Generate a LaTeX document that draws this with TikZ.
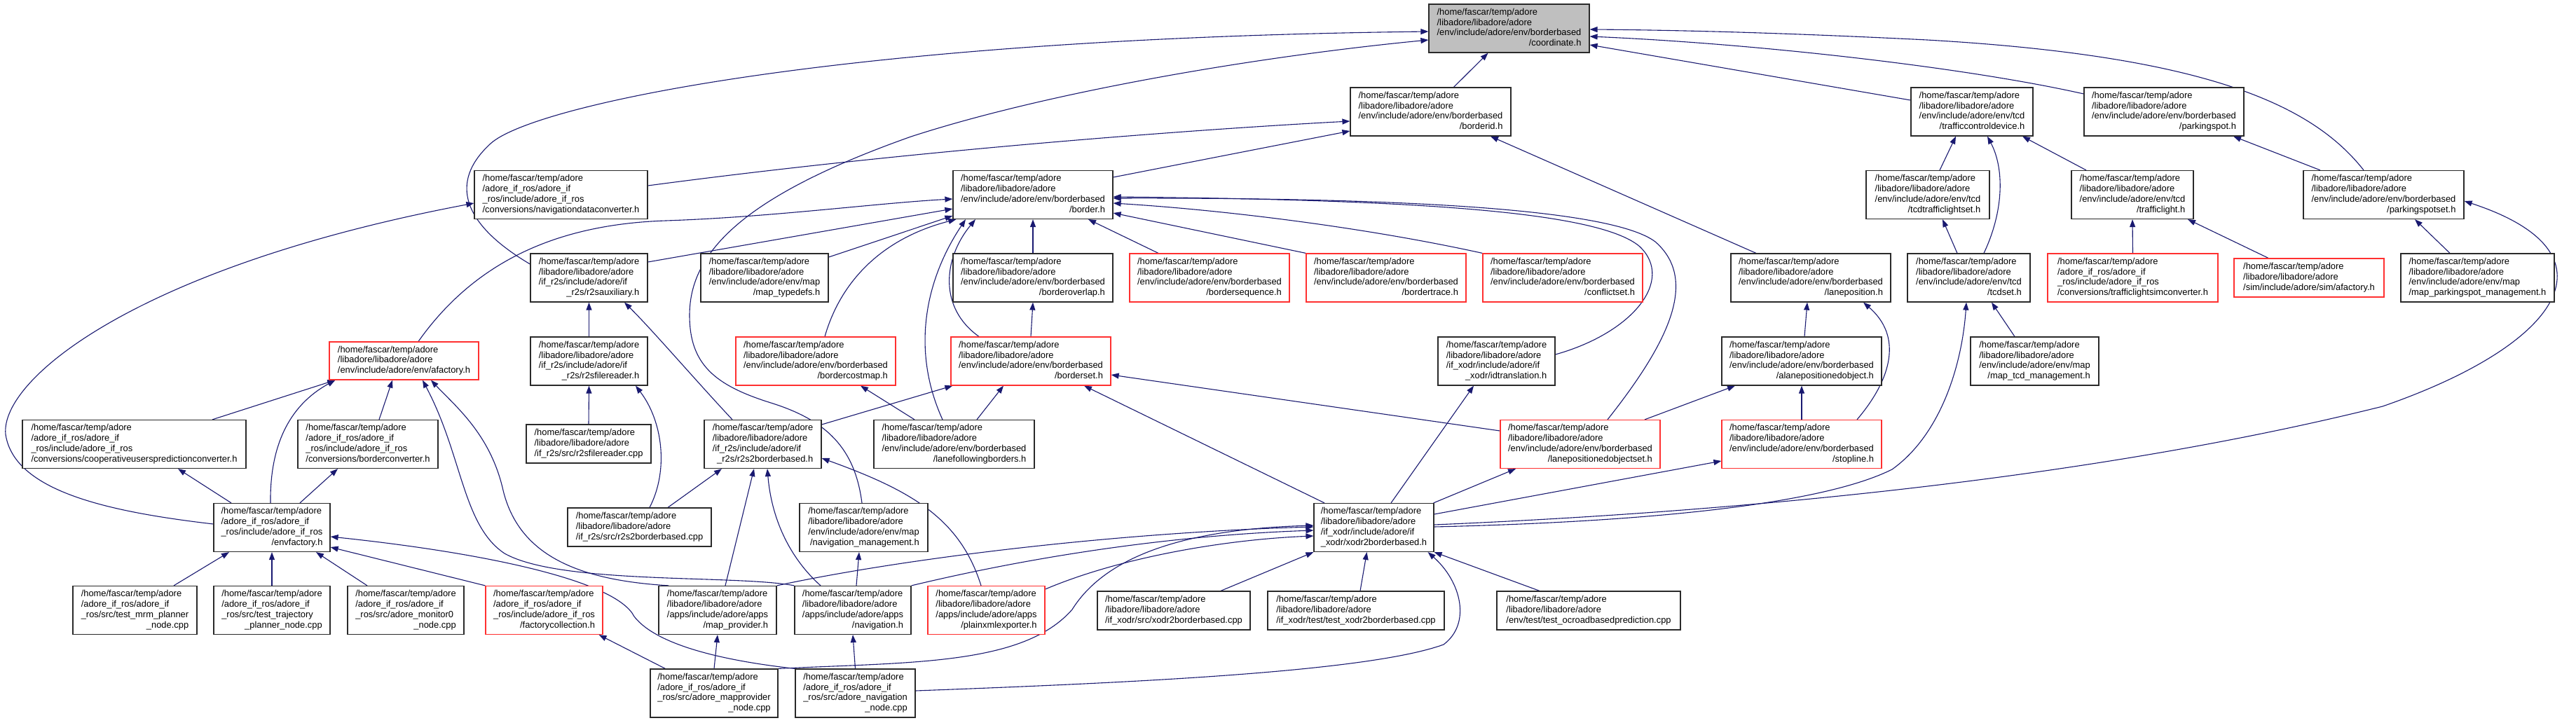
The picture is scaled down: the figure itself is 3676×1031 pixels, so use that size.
\documentclass[tikz,border=0pt]{standalone}
\usepackage{fontspec}
\setmainfont{Liberation Sans}
\usetikzlibrary{arrows.meta,calc}
\definecolor{ecol}{HTML}{191970}
\definecolor{bcol}{HTML}{2A2A2A}
\definecolor{rcol}{HTML}{FF3030}
\definecolor{gfill}{HTML}{BFBFBF}
\newcommand{\nf}{\fontsize{12.9}{14.8}\selectfont}
\newcommand{\ntx}[1]{\begin{tabular}{@{}l@{}}#1\end{tabular}}
\newcommand{\lcx}[1]{\hfill#1\hfill}
\newcommand{\pA}{/home/fascar/temp/adore\\/libadore/libadore/adore\\}
\newcommand{\pR}{/home/fascar/temp/adore\\/adore\_if\_ros/adore\_if\\}
\newcommand{\bbx}[1]{\ntx{\pA/env/include/adore/env/borderbased\\\lcx{#1}}}
\newcommand{\tcdx}[1]{\ntx{\pA/env/include/adore/env/tcd\\\lcx{#1}}}
\newcommand{\mapx}[1]{\ntx{\pA/env/include/adore/env/map\\\lcx{#1}}}
\newcommand{\appx}[1]{\ntx{\pA/apps/include/adore/apps\\\lcx{#1}}}
\newcommand{\rosinc}[1]{\ntx{\pR\_ros/include/adore\_if\_ros\\\lcx{#1}}}
\newcommand{\rossrc}[2]{\ntx{\pR\_ros/src/#1\\\lcx{#2}}}
\newcommand{\rtsx}[1]{\ntx{\pA/if\_r2s/include/adore/if\\\lcx{\_r2s/#1}}}
\newcommand{\xodrx}[1]{\ntx{\pA/if\_xodr/include/adore/if\\\lcx{\_xodr/#1}}}
\newcommand{\thr}[1]{\ntx{\pA#1}}
\pgfdeclarelayer{bg}
\pgfsetlayers{bg,main}
\tikzset{
  bx/.style={draw=bcol, line width=1.2pt, fill=white, inner sep=0pt, minimum height=69pt, font=\nf},
  rb/.style={bx, draw=rcol},
  edg/.style={draw=ecol, line width=1.1pt, -{Triangle[length=11pt,width=8pt]}}
}
\begin{document}
\begin{tikzpicture}[x=1pt,y=-1pt]
\useasboundingbox (0,0) rectangle (3676,1031);
% ---------- nodes ----------
\node[bx,fill=gfill,minimum width=229pt] (coord) at (2153.5,40.5) {\bbx{/coordinate.h}};
\node[bx,minimum width=229pt] (borderid) at (2041.5,159.5) {\bbx{/borderid.h}};
\node[bx,minimum width=174pt] (tcdev) at (2814,159.5) {\tcdx{/trafficcontroldevice.h}};
\node[bx,minimum width=228pt] (parkingspot) at (3088,159.5) {\bbx{/parkingspot.h}};
\node[bx,minimum width=247pt] (navconv) at (800.5,278) {\rosinc{/conversions/navigationdataconverter.h}};
\node[bx,minimum width=228pt] (border) at (1474,278) {\bbx{/border.h}};
\node[bx,minimum width=176pt] (tcdtls) at (2751,278) {\tcdx{/tcdtrafficlightset.h}};
\node[bx,minimum width=174pt] (trafficlight) at (3043,278) {\tcdx{/trafficlight.h}};
\node[bx,minimum width=229pt] (pss) at (3401.5,278) {\bbx{/parkingspotset.h}};
\node[bx,minimum width=167pt] (r2saux) at (840.5,396.5) {\rtsx{r2sauxiliary.h}};
\node[bx,minimum width=182pt] (maptypedefs) at (1091,396.5) {\mapx{/map\_typedefs.h}};
\node[bx,minimum width=228pt] (borderoverlap) at (1474,396.5) {\bbx{/borderoverlap.h}};
\node[rb,minimum width=228pt] (bordersequence) at (1726,396.5) {\bbx{/bordersequence.h}};
\node[rb,minimum width=228pt] (bordertrace) at (1978,396.5) {\bbx{/bordertrace.h}};
\node[rb,minimum width=228pt] (conflictset) at (2230,396.5) {\bbx{/conflictset.h}};
\node[bx,minimum width=228pt] (laneposition) at (2584,396.5) {\bbx{/laneposition.h}};
\node[bx,minimum width=175pt] (tcdset) at (2809.5,396.5) {\tcdx{/tcdset.h}};
\node[rb,minimum width=243pt] (tlsimconv) at (3043.5,396.5) {\rosinc{/conversions/trafficlightsimconverter.h}};
\node[rb,minimum width=214pt,minimum height=55pt] (simafactory) at (3295,396.5) {\thr{/sim/include/adore/sim/afactory.h}};
\node[bx,minimum width=219pt] (mappsm) at (3535.5,396.5) {\mapx{/map\_parkingspot\_management.h}};
\node[rb,minimum width=213pt,minimum height=54pt] (envafactory) at (576.5,515) {\thr{/env/include/adore/env/afactory.h}};
\node[bx,minimum width=167pt] (r2sfilereader) at (840.5,515.5) {\rtsx{r2sfilereader.h}};
\node[rb,minimum width=228pt] (bordercostmap) at (1164,515.5) {\bbx{/bordercostmap.h}};
\node[rb,minimum width=228pt] (borderset) at (1471,515.5) {\bbx{/borderset.h}};
\node[bx,minimum width=167pt] (idtranslation) at (2135.5,515.5) {\xodrx{idtranslation.h}};
\node[bx,minimum width=228pt] (alpo) at (2571,515.5) {\bbx{/alanepositionedobject.h}};
\node[bx,minimum width=183pt] (maptcd) at (2903.5,515.5) {\mapx{/map\_tcd\_management.h}};
\node[bx,minimum width=319pt] (coopconv) at (191.5,634) {\rosinc{/conversions/cooperativeuserspredictionconverter.h}};
\node[bx,minimum width=200pt] (borderconv) at (525,634) {\rosinc{/conversions/borderconverter.h}};
\node[bx,minimum width=178pt,minimum height=55pt] (rtsfrcpp) at (840,633.5) {\thr{/if\_r2s/src/r2sfilereader.cpp}};
\node[bx,minimum width=167pt] (rtsbb) at (1088.5,634) {\rtsx{r2s2borderbased.h}};
\node[bx,minimum width=229pt] (lfb) at (1361.5,634) {\bbx{/lanefollowingborders.h}};
\node[rb,minimum width=228pt] (lposet) at (2255,634) {\bbx{/lanepositionedobjectset.h}};
\node[rb,minimum width=228pt] (stopline) at (2571,634) {\bbx{/stopline.h}};
\node[bx,minimum width=166pt] (envfactory) at (388,753) {\rosinc{/envfactory.h}};
\node[bx,minimum width=205pt,minimum height=55pt] (rtsbbcpp) at (912.5,752.5) {\thr{/if\_r2s/src/r2s2borderbased.cpp}};
\node[bx,minimum width=183pt] (navmgmt) at (1232.5,753) {\mapx{/navigation\_management.h}};
\node[bx,minimum width=171pt] (xodrbb) at (1960.5,753) {\xodrx{xodr2borderbased.h}};
\node[bx,minimum width=177pt] (mrm) at (192.5,871) {\rossrc{test\_mrm\_planner}{\_node.cpp}};
\node[bx,minimum width=166pt] (trajplanner) at (388,871) {\rossrc{test\_trajectory}{\_planner\_node.cpp}};
\node[bx,minimum width=166pt] (monitor0) at (579,871) {\rossrc{adore\_monitor0}{\_node.cpp}};
\node[rb,minimum width=167pt] (factorycoll) at (776.5,871) {\rosinc{/factorycollection.h}};
\node[bx,minimum width=168pt] (mapprovider) at (1024,871) {\appx{/map\_provider.h}};
\node[bx,minimum width=166pt] (navigation) at (1217,871) {\appx{/navigation.h}};
\node[rb,minimum width=167pt] (plainxml) at (1407.5,871) {\appx{/plainxmlexporter.h}};
\node[bx,minimum width=218pt,minimum height=55pt] (xodrcpp) at (1675,871.5) {\thr{/if\_xodr/src/xodr2borderbased.cpp}};
\node[bx,minimum width=252pt,minimum height=55pt] (testxodr) at (1935,871.5) {\thr{/if\_xodr/test/test\_xodr2borderbased.cpp}};
\node[bx,minimum width=262pt,minimum height=55pt] (testocroad) at (2267,871.5) {\thr{/env/test/test\_ocroadbasedprediction.cpp}};
\node[bx,minimum width=182pt] (mpnode) at (1019,989.5) {\rossrc{adore\_mapprovider}{\_node.cpp}};
\node[bx,minimum width=171pt] (navnode) at (1220.5,989.5) {\rossrc{adore\_navigation}{\_node.cpp}};
% ---------- edges ----------
\begin{pgfonlayer}{bg}
\fill[white] (0,0) rectangle (3676,1031);
\draw[edg] ($(borderid.north)+(33,0)$) -- ($(coord.south)+(-30,0)$);
\draw[edg] ($(r2saux.west)+(0,-19.5)$) .. controls (660,320) and (640,260) .. (700,205) .. controls (760,150) and (1200,55) .. ($(coord.west)+(0,4.5)$);
\draw[edg] ($(navmgmt.north)+(-2.5,0)$) .. controls (1220,640) and (1180,600) .. (1100,575) .. controls (1020,550) and (984,520) .. (984,450) .. controls (984,360) and (1060,280) .. (1300,195) .. controls (1500,130) and (1800,80) .. ($(coord.west)+(0,16.5)$);
\draw[edg] ($(tcdev.west)+(0,-16.5)$) -- ($(coord.east)+(0,23.5)$);
\draw[edg] ($(parkingspot.west)+(0,-25.5)$) .. controls (2800,95) and (2500,62) .. ($(coord.east)+(0,11.5)$);
\draw[edg] ($(pss.north)+(-28.5,0)$) .. controls (3300,150) and (3150,80) .. (2750,57) .. controls (2550,47) and (2400,43) .. ($(coord.east)+(0,1.5)$);
\draw[edg] ($(border.east)+(0,-25)$) -- ($(borderid.west)+(0,27.5)$);
\draw[edg] ($(navconv.east)+(0,-13)$) .. controls (1300,215) and (1700,185) .. ($(borderid.west)+(0,13.5)$);
\draw[edg] ($(laneposition.north)+(-78,0)$) -- ($(borderid.south)+(85.5,0)$);
\draw[edg] ($(envafactory.north)+(20.5,0)$) .. controls (680,370) and (800,320) .. (950,315) .. controls (1100,310) and (1250,290) .. ($(border.west)+(0,6)$);
\draw[edg] ($(r2saux.east)+(0,-22.5)$) -- ($(border.west)+(0,20)$);
\draw[edg] ($(maptypedefs.east)+(0,-29.5)$) -- ($(border.west)+(0,30)$);
\draw[edg] ($(bordercostmap.north)+(13,0)$) .. controls (1200,400) and (1260,340) .. ($(border.south west)+(5,0)$);
\draw[edg] ($(lfb.north)+(-16.5,0)$) .. controls (1300,500) and (1320,400) .. ($(border.south)+(-96,0)$);
\draw[edg] ($(borderset.north)+(-74,0)$) .. controls (1340,440) and (1345,370) .. ($(border.south)+(-82,0)$);
\draw[edg] (borderoverlap.north) -- (border.south);
\draw[edg] ($(bordersequence.north)+(-73,0)$) -- ($(border.south)+(79,0)$);
\draw[edg] (bordertrace.north west) -- ($(border.east)+(0,26)$);
\draw[edg] (conflictset.north west) .. controls (1950,325) and (1750,300) .. ($(border.east)+(0,12)$);
\draw[edg] ($(idtranslation.east)+(0,-9.5)$) .. controls (2330,475) and (2390,400) .. (2340,352) .. controls (2280,300) and (2000,285) .. ($(border.east)+(0,3)$);
\draw[edg] ($(lposet.north)+(39,0)$) .. controls (2380,490) and (2425,400) .. (2362,345) .. controls (2300,298) and (2000,282) .. ($(border.east)+(0,5)$);
\draw[edg] ($(lposet.west)+(0,-19)$) -- ($(borderset.east)+(0,19.5)$);
\draw[edg] ($(lposet.north)+(92,0)$) -- ($(alpo.south)+(-95,0)$);
\draw[edg] (stopline.north) -- (alpo.south);
\draw[edg] ($(alpo.north)+(4,0)$) -- ($(laneposition.south)+(-5,0)$);
\draw[edg] ($(stopline.north)+(79,0)$) .. controls (2700,540) and (2715,480) .. ($(laneposition.south)+(75,0)$);
\draw[edg] ($(xodrbb.north)+(-70.5,0)$) -- ($(borderset.south)+(76,0)$);
\draw[edg] ($(xodrbb.north)+(24.5,0)$) -- ($(idtranslation.south)+(-32.5,0)$);
\draw[edg] ($(xodrbb.north east)+(-1,0)$) -- ($(lposet.south)+(-92,0)$);
\draw[edg] ($(xodrbb.east)+(0,-19)$) -- ($(stopline.west)+(0,24)$);
\draw[edg] ($(xodrbb.east)+(0,-4)$) .. controls (2500,730) and (3000,680) .. (3400,580) .. controls (3660,490) and (3740,360) .. ($(pss.east)+(0,9)$);
\draw[edg] ($(xodrbb.east)+(0,-1)$) .. controls (2350,745) and (2600,720) .. (2700,670) .. controls (2770,620) and (2800,520) .. ($(tcdset.south)+(-3.5,0)$);
\draw[edg] (mapprovider.north east) .. controls (1300,795) and (1600,760) .. ($(xodrbb.west)+(0,-1)$);
\draw[edg] (navigation.north east) .. controls (1450,800) and (1650,765) .. ($(xodrbb.west)+(0,4)$);
\draw[edg] ($(plainxml.east)+(0,-30)$) .. controls (1600,795) and (1750,770) .. ($(xodrbb.west)+(0,12)$);
\draw[edg] (mpnode.north east) .. controls (1300,945) and (1460,950) .. (1530,870) .. controls (1580,790) and (1700,755) .. ($(xodrbb.west)+(0,-3)$);
\draw[edg] ($(navnode.east)+(0,-3.5)$) .. controls (1600,975) and (1950,960) .. (2060,920) .. controls (2100,890) and (2085,830) .. ($(xodrbb.south east)+(-9,0)$);
\draw[edg] ($(xodrcpp.north)+(67,0)$) -- (xodrbb.south west);
\draw[edg] ($(testxodr.north)+(6,0)$) -- ($(xodrbb.south)+(-10,0)$);
\draw[edg] ($(testocroad.north)+(-70,0)$) -- (xodrbb.south east);
\draw[edg] (r2sfilereader.north) -- (r2saux.south);
\draw[edg] ($(rtsbb.north)+(-43.5,0)$) .. controls (990,540) and (930,470) .. ($(r2saux.south)+(50.5,0)$);
\draw[edg] ($(rtsbb.east)+(0,-28)$) -- ($(borderset.south west)+(3,0)$);
\draw[edg] (rtsfrcpp.north) -- (r2sfilereader.south);
\draw[edg] ($(rtsbbcpp.north)+(14.5,0)$) .. controls (955,670) and (945,600) .. ($(r2sfilereader.south)+(66.5,0)$);
\draw[edg] ($(rtsbbcpp.north)+(40.5,0)$) -- ($(rtsbb.south)+(-58.5,0)$);
\draw[edg] ($(mapprovider.north)+(11,0)$) -- ($(rtsbb.south)+(-12.5,0)$);
\draw[edg] ($(navigation.north)+(-46,0)$) .. controls (1120,790) and (1100,730) .. ($(rtsbb.south)+(6.5,0)$);
\draw[edg] ($(plainxml.north)+(-7.5,0)$) .. controls (1370,740) and (1300,700) .. ($(rtsbb.east)+(0,20)$);
\draw[edg] ($(lfb.north)+(32.5,0)$) -- ($(borderset.south)+(-39,0)$);
\draw[edg] ($(lfb.north)+(-56.5,0)$) -- ($(bordercostmap.south)+(64,0)$);
\draw[edg] (borderset.north) -- (borderoverlap.south);
\draw[edg] ($(navigation.north)+(5,0)$) -- ($(navmgmt.south)+(-6.5,0)$);
\draw[edg] (mpnode.north) -- (mapprovider.south);
\draw[edg] (navnode.north) -- (navigation.south);
\draw[edg] ($(mpnode.north west)+(22,0)$) -- ($(factorycoll.south east)+(-6,0)$);
\draw[edg] (navnode.north west) .. controls (1050,945) and (940,925) .. (905,880) .. controls (880,830) and (700,790) .. ($(envfactory.east)+(0,13)$);
\draw[edg] ($(mapprovider.north west)+(15,0)$) .. controls (820,828) and (740,790) .. (718,700) .. controls (700,620) and (650,580) .. ($(envafactory.south)+(38.5,0)$);
\draw[edg] (navigation.north west) .. controls (1050,820) and (800,835) .. (720,790) .. controls (660,750) and (660,650) .. ($(envafactory.south)+(26.5,0)$);
\draw[edg] ($(envfactory.north)+(-2,0)$) .. controls (385,640) and (410,580) .. ($(envafactory.south west)+(9,0)$);
\draw[edg] ($(coopconv.north)+(111.5,0)$) -- ($(envafactory.south west)+(9,0)$);
\draw[edg] ($(borderconv.north)+(16,0)$) -- ($(envafactory.south)+(-16.5,0)$);
\draw[edg] ($(envfactory.north)+(-58,0)$) -- ($(coopconv.south)+(62.5,0)$);
\draw[edg] ($(envfactory.north)+(40,0)$) -- ($(borderconv.south)+(-43,0)$);
\draw[edg] ($(envfactory.west)+(0,-5)$) .. controls (150,730) and (20,700) .. (8,620) .. controls (0,540) and (200,380) .. ($(navconv.west)+(0,12)$);
\draw[edg] ($(mrm.north)+(55.5,0)$) -- ($(envfactory.south)+(-61,0)$);
\draw[edg] (trajplanner.north) -- (envfactory.south);
\draw[edg] ($(monitor0.north)+(-55,0)$) -- ($(envfactory.south)+(63,0)$);
\draw[edg] (factorycoll.north west) -- ($(envfactory.east)+(0,28)$);
\draw[edg] ($(tcdset.north)+(-16.5,0)$) -- ($(tcdtls.south)+(21,0)$);
\draw[edg] ($(tcdset.north)+(21.5,0)$) .. controls (2860,300) and (2860,240) .. ($(tcdev.south)+(22,0)$);
\draw[edg] ($(tcdtls.north)+(17,0)$) -- ($(tcdev.south)+(-23,0)$);
\draw[edg] ($(trafficlight.north)+(-66,0)$) -- ($(tcdev.south)+(72,0)$);
\draw[edg] ($(maptcd.north)+(-28.5,0)$) -- ($(tcdset.south)+(32.5,0)$);
\draw[edg] (tlsimconv.north) -- (trafficlight.south);
\draw[edg] ($(simafactory.north)+(-58,0)$) -- ($(trafficlight.south)+(79,0)$);
\draw[edg] ($(mappsm.north)+(-39.5,0)$) -- ($(pss.south)+(44.5,0)$);
\draw[edg] ($(pss.north)+(-90.5,0)$) -- ($(parkingspot.south)+(99,0)$);
\end{pgfonlayer}
\end{tikzpicture}
\end{document}
